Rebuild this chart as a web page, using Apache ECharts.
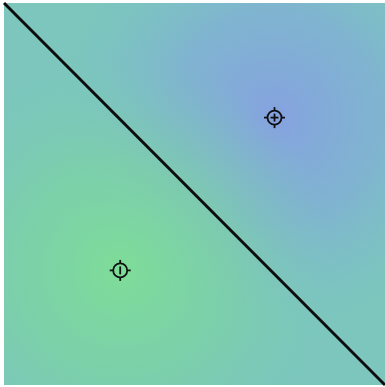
<!DOCTYPE html>
<html>
<head>
<meta charset="utf-8">
<script src="https://cdn.jsdelivr.net/npm/echarts@6/dist/echarts.min.js"></script>
<style>
  html, body { margin: 0; padding: 0; background: #ffffff; }
  #chart { width: 385px; height: 387px; }
</style>
</head>
<body>
<div id="chart"></div>
<script>
// Two point charges in a unit square and the zero-potential line between them
const chargeNames = ['+', '-'];
const chargeX = [0.71, 0.305];
const chargeY = [0.70, 0.30];
const lineX = [0.0, 1.0];
const lineY = [1.0, 0.0];

const chargePoints = chargeX.map((x, i) => [x, chargeY[i], chargeNames[i]]);
const linePoints = lineX.map((x, i) => [x, lineY[i]]);

// Soft field glow around each charge
const glowColors = {
  '+': ['rgba(134,160,226,0.95)', 'rgba(130,168,220,0.6)', 'rgba(125,190,205,0)'],
  '-': ['rgba(126,222,150,0.95)', 'rgba(124,214,158,0.6)', 'rgba(122,204,178,0)']
};

function glowItem(params, api) {
  const c = api.coord([api.value(0), api.value(1)]);
  const key = chargeNames[params.dataIndex];
  const stops = glowColors[key];
  const r = 215;
  return {
    type: 'circle',
    shape: { cx: c[0], cy: c[1], r: r },
    style: {
      fill: new echarts.graphic.RadialGradient(0.5, 0.5, 0.5, [
        { offset: 0, color: stops[0] },
        { offset: 0.5, color: stops[1] },
        { offset: 1, color: stops[2] }
      ])
    }
  };
}

// Charge marker: ring, sign inside, four short ticks outside
function chargeItem(params, api) {
  const c = api.coord([api.value(0), api.value(1)]);
  const key = chargeNames[params.dataIndex];
  const x = c[0], y = c[1];
  const R = 7, T = 10.5;
  const stroke = { stroke: '#111', lineWidth: 1.8, fill: null };
  const kids = [
    { type: 'circle', shape: { cx: x, cy: y, r: R }, style: stroke },
    { type: 'line', shape: { x1: x, y1: y - R, x2: x, y2: y - T }, style: stroke },
    { type: 'line', shape: { x1: x, y1: y + R, x2: x, y2: y + T }, style: stroke },
    { type: 'line', shape: { x1: x - R, y1: y, x2: x - T, y2: y }, style: stroke },
    { type: 'line', shape: { x1: x + R, y1: y, x2: x + T, y2: y }, style: stroke },
    { type: 'line', shape: { x1: x, y1: y - 4, x2: x, y2: y + 4 }, style: stroke }
  ];
  if (key === '+') {
    kids.push({ type: 'line', shape: { x1: x - 4, y1: y, x2: x + 4, y2: y }, style: stroke });
  }
  return { type: 'group', children: kids };
}

const chart = echarts.init(document.getElementById('chart'), null, { renderer: 'canvas' });
chart.setOption({
  animation: false,
  backgroundColor: '#ffffff',
  grid: {
    left: 4, right: 0, top: 3, bottom: 2,
    show: true,
    backgroundColor: '#7cc6bd',
    borderWidth: 0
  },
  xAxis: { type: 'value', min: 0, max: 1, show: false },
  yAxis: { type: 'value', min: 0, max: 1, show: false },
  series: [
    {
      type: 'custom',
      data: chargePoints,
      renderItem: glowItem,
      clip: true,
      silent: true,
      z: 1
    },
    {
      type: 'line',
      data: linePoints,
      symbol: 'none',
      lineStyle: { color: '#0d0d0d', width: 3 },
      z: 3
    },
    {
      type: 'custom',
      data: chargePoints,
      renderItem: chargeItem,
      z: 4
    }
  ]
});
</script>
</body>
</html>
